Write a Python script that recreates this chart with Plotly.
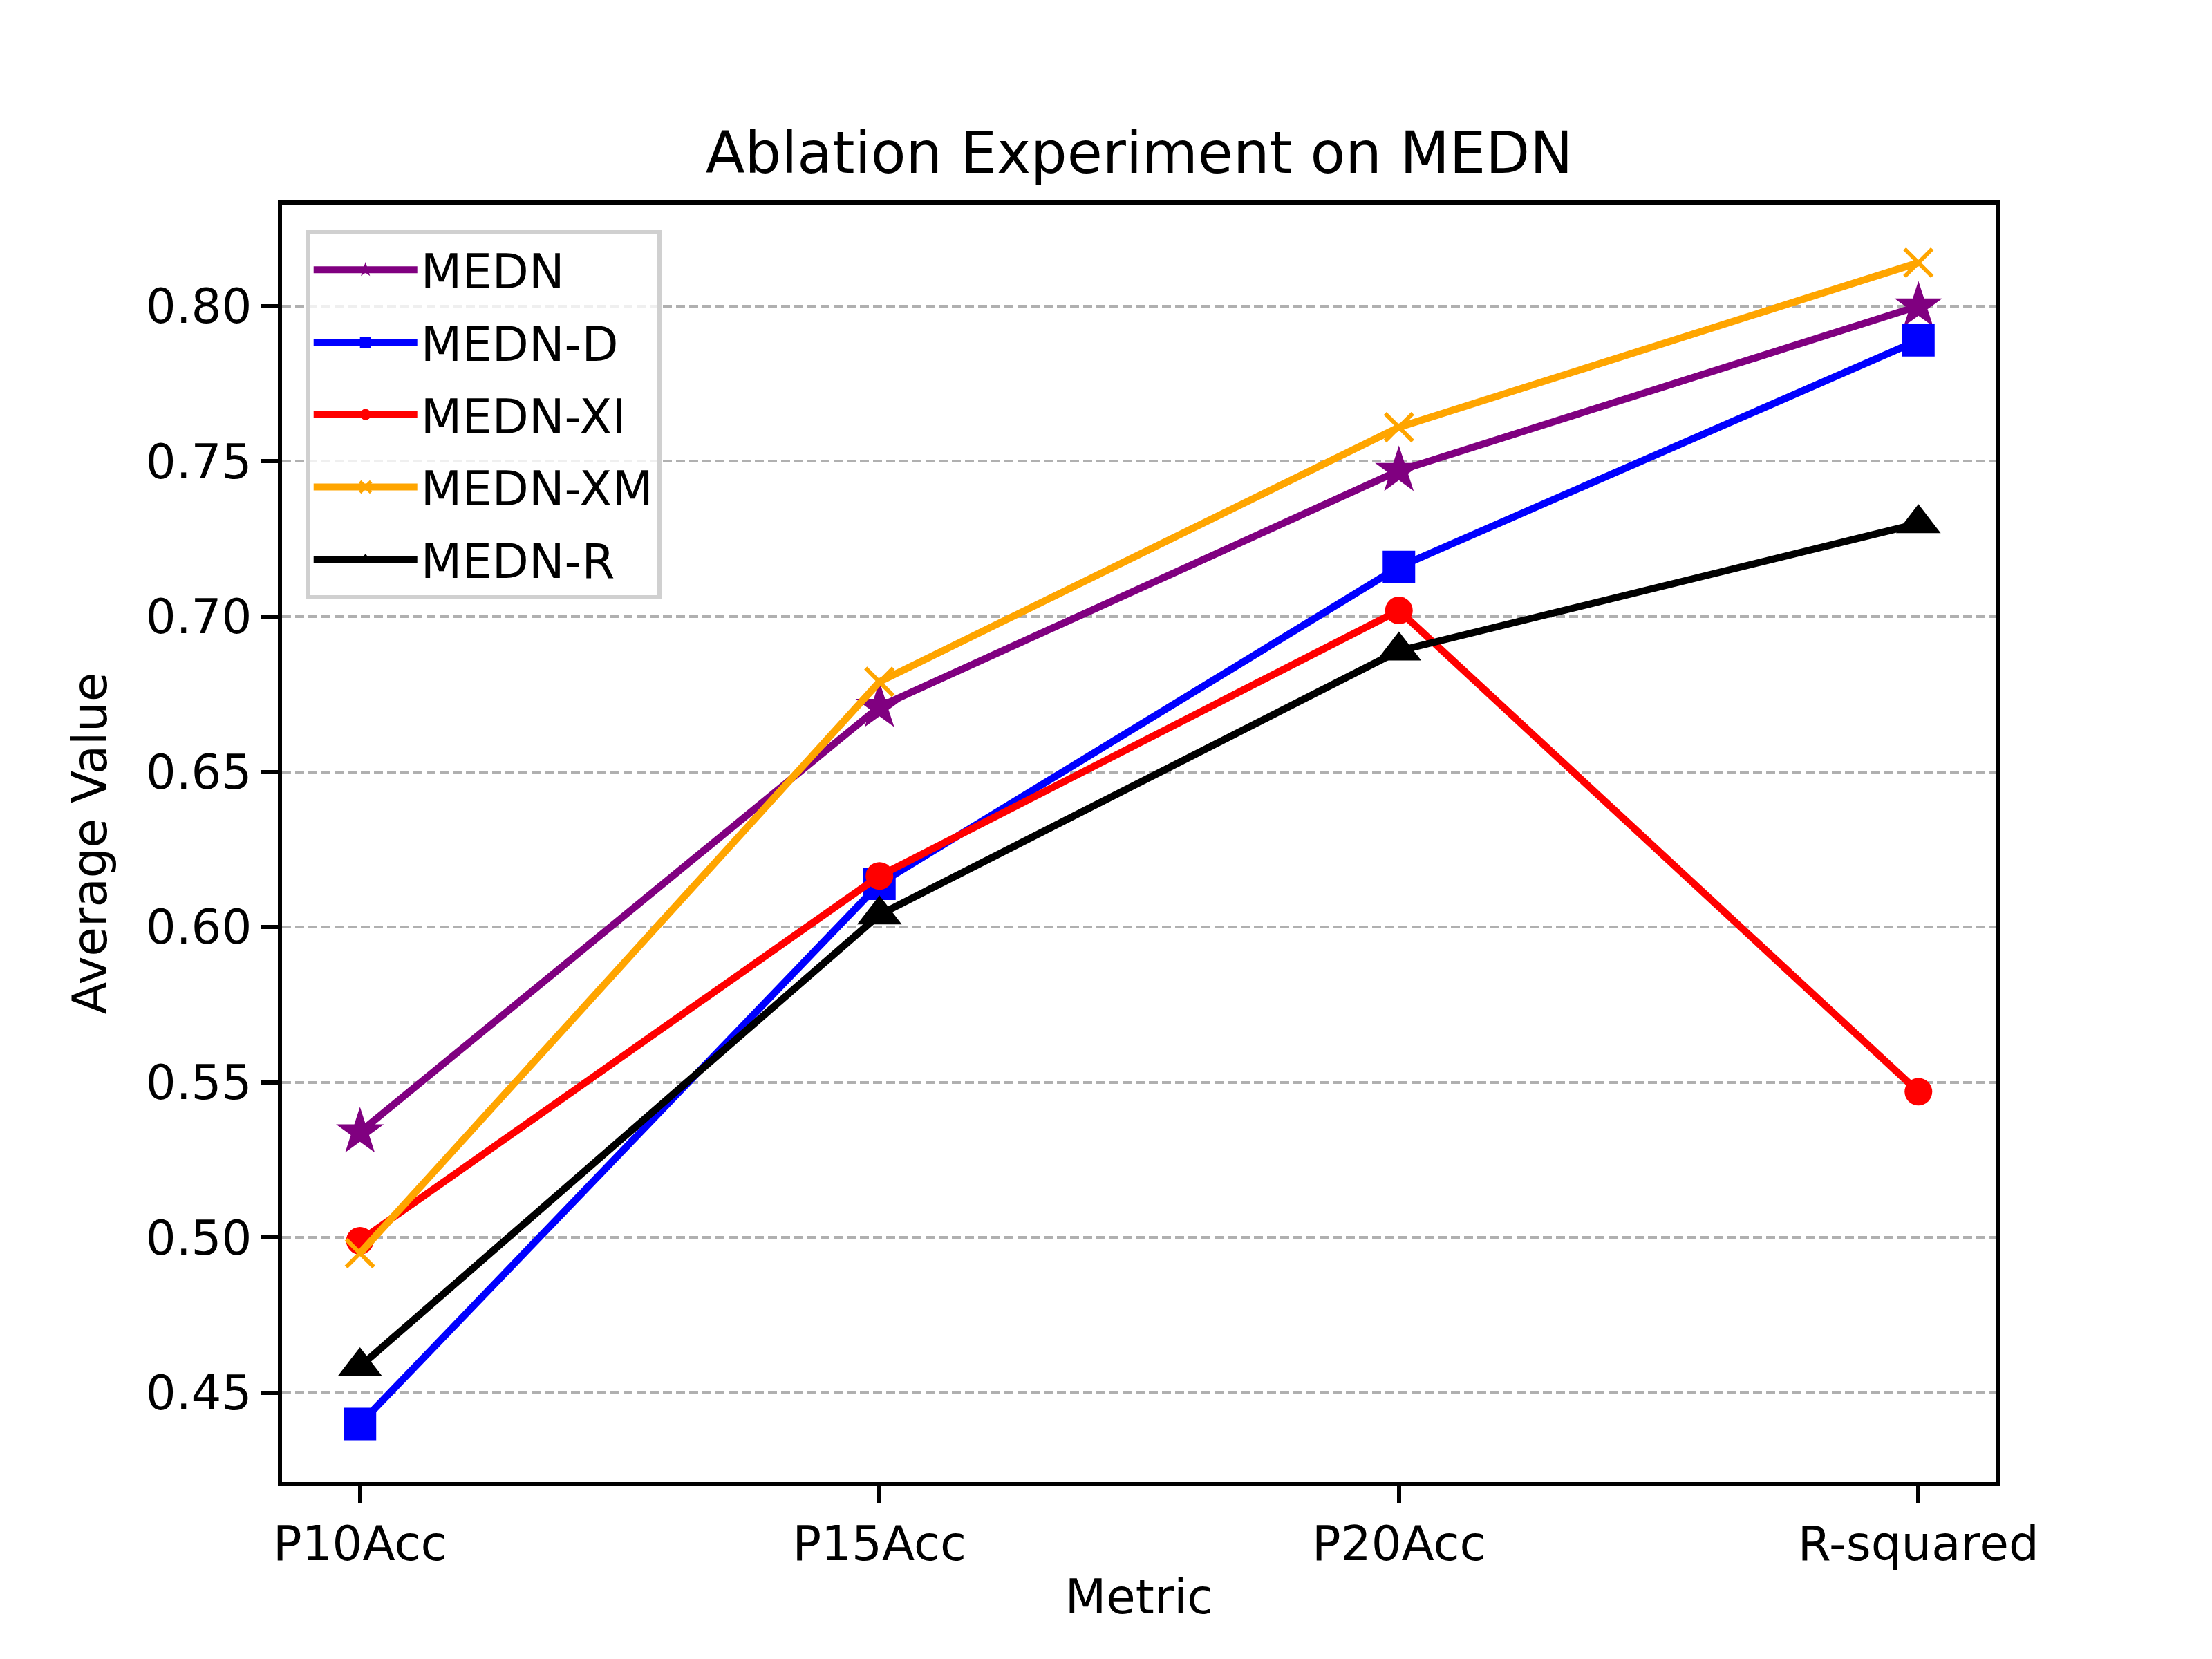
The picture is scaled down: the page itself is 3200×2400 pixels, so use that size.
import plotly.graph_objects as go

# --- data ----------------------------------------------------------------
metrics = ["P10Acc", "P15Acc", "P20Acc", "R-squared"]

medn    = [0.534, 0.671, 0.747, 0.800]
medn_d  = [0.440, 0.614, 0.716, 0.789]
medn_xi = [0.499, 0.6165, 0.702, 0.547]
medn_xm = [0.495, 0.679, 0.761, 0.814]
medn_r  = [0.4585, 0.604, 0.689, 0.730]

series = [
    ("MEDN",    medn,    "purple", "star",        52),
    ("MEDN-D",  medn_d,  "blue",   "square",      47),
    ("MEDN-XI", medn_xi, "red",    "circle",      40),
    ("MEDN-XM", medn_xm, "orange", "x-thin",      40),
    ("MEDN-R",  medn_r,  "black",  "triangle-up", 56),
]

FONT = "DejaVu Sans"
W, H = 3200, 2400
FS = 69          # 10pt at 500 dpi

fig = go.Figure()
for name, vals, col, sym, sz in series:
    mk = dict(symbol=sym, size=sz, color=col)
    if sym == "x-thin":
        mk["line"] = dict(color=col, width=6)
    fig.add_trace(go.Scatter(x=metrics, y=vals, mode="lines+markers", name=name,
                             legendgroup=name,
                             line=dict(color=col, width=10.4), marker=mk))

fig.update_layout(
    width=W, height=H,
    paper_bgcolor="white", plot_bgcolor="white",
    margin=dict(l=400, r=320, t=288, b=264, autoexpand=False),
    font=dict(family=FONT, size=FS, color="black"),
    title=dict(text="Ablation Experiment on MEDN", x=0.5, xanchor="center",
               xref="paper", yref="paper", y=1, yanchor="bottom",
               pad=dict(b=46), font=dict(size=83)),
    legend=dict(x=0.014, y=0.98, xanchor="left", yanchor="top",
                bgcolor="rgba(255,255,255,0.8)", bordercolor="#d0d0d0",
                borderwidth=6, itemwidth=150, tracegroupgap=12,
                font=dict(size=FS)),
    showlegend=True,
)
fig.update_xaxes(
    range=[-0.15, 3.15], showline=True, linecolor="black", linewidth=5.6,
    mirror=True, ticks="outside", ticklen=24, tickwidth=5.6, tickcolor="black",
    showgrid=False, zeroline=False,
    title=dict(text="Metric", standoff=16, font=dict(size=FS)),
)
fig.update_yaxes(
    range=[0.4213, 0.8327], tickvals=[0.45, 0.50, 0.55, 0.60, 0.65, 0.70, 0.75, 0.80],
    ticktext=["0.45", "0.50", "0.55", "0.60", "0.65", "0.70", "0.75", "0.80"],
    showline=True, linecolor="black", linewidth=5.6, mirror=True,
    ticks="outside", ticklen=24, tickwidth=5.6, tickcolor="black",
    showgrid=True, gridcolor="#b0b0b0", griddash="13px,6px", gridwidth=3.5,
    zeroline=False,
    title=dict(text="Average Value", standoff=36, font=dict(size=FS)),
)

fig.write_html("out.html")
